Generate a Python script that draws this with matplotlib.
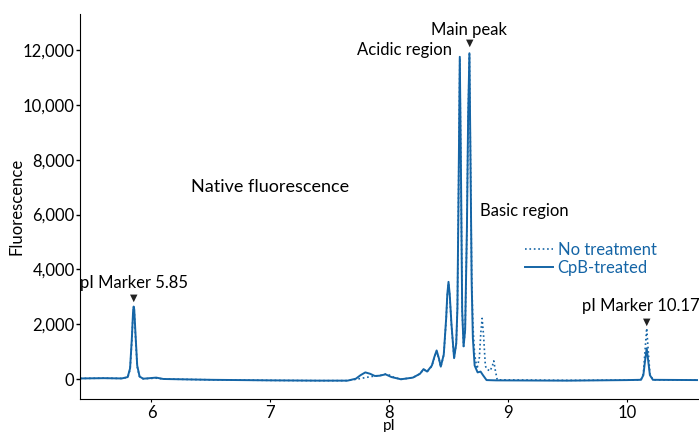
import matplotlib
matplotlib.use("Agg")
import matplotlib.pyplot as plt
from matplotlib.ticker import FuncFormatter

plt.rcParams["font.family"] = ["Lato", "DejaVu Sans"]
plt.rcParams["font.size"] = 12

# CpB-treated trace (solid), pI vs fluorescence
pi_cpb = [5.40, 5.60, 5.75, 5.80, 5.82, 5.835, 5.845, 5.85, 5.855, 5.865, 5.88, 5.90, 5.93,
          6.04, 6.10, 6.50, 7.00, 7.40, 7.65, 7.72, 7.76, 7.80, 7.84, 7.88, 7.92, 7.97, 8.02,
          8.10, 8.20, 8.26, 8.29, 8.32, 8.36, 8.38, 8.40, 8.42, 8.435, 8.46, 8.48, 8.49, 8.50,
          8.51, 8.525, 8.547, 8.565, 8.575, 8.585, 8.595, 8.605, 8.615, 8.627, 8.64, 8.655,
          8.665, 8.676, 8.685, 8.695, 8.705, 8.72, 8.745, 8.77, 8.79, 8.82, 8.90, 9.50,
          10.00, 10.12, 10.14, 10.155, 10.168, 10.18, 10.195, 10.22, 10.60]
fl_cpb = [30, 40, 30, 80, 400, 1500, 2450, 2650, 2550, 1700, 500, 100, 20,
          60, 10, -20, -40, -50, -50, 20, 150, 250, 200, 120, 130, 180, 80,
          0, 60, 200, 370, 280, 500, 800, 1050, 750, 460, 900, 2200, 3100, 3550,
          3100, 2000, 770, 1300, 2600, 7000, 11750, 7500, 2500, 1200, 1800, 5500,
          9500, 11880, 8000, 3500, 1500, 500, 250, 280, 150, -30, -40, -50,
          -30, -20, 150, 700, 1130, 700, 150, -20, -30]

# No treatment trace (dotted)
pi_none = [5.40, 5.60, 5.75, 5.80, 5.82, 5.835, 5.845, 5.85, 5.855, 5.865, 5.88, 5.90, 5.93,
           6.04, 6.10, 6.50, 7.00, 7.40, 7.65, 7.75, 7.85, 7.92, 7.98, 8.04,
           8.10, 8.20, 8.26, 8.29, 8.32, 8.36, 8.38, 8.40, 8.42, 8.435, 8.46, 8.48, 8.49, 8.50,
           8.51, 8.525, 8.547, 8.565, 8.575, 8.585, 8.595, 8.605, 8.615, 8.627, 8.64, 8.655,
           8.665, 8.676, 8.685, 8.695, 8.705, 8.72, 8.74, 8.76, 8.772, 8.783, 8.795, 8.81,
           8.82, 8.85, 8.87, 8.881, 8.895, 8.91, 9.50,
           10.00, 10.12, 10.14, 10.155, 10.168, 10.18, 10.195, 10.22, 10.60]
fl_none = [30, 40, 30, 70, 350, 1400, 2400, 2600, 2500, 1600, 450, 90, 20,
           40, 10, -20, -40, -50, -50, 20, 100, 130, 200, 70,
           0, 60, 200, 360, 270, 480, 780, 1020, 730, 450, 880, 2150, 3050, 3500,
           3050, 1950, 760, 1300, 2600, 7000, 11700, 7500, 2500, 1200, 1800, 5500,
           9500, 11850, 8000, 3800, 2000, 900, 380, 800, 1700, 2220, 1600, 500,
           375, 300, 500, 670, 300, -20, -40,
           -30, -20, 200, 1100, 1860, 1100, 200, -20, -30]

legend_labels = ["No treatment", "CpB-treated"]

blue = "#1565a6"

fig = plt.figure(figsize=(6.99, 4.32), dpi=100)
ax = fig.add_axes([0.1147, 0.0757, 0.8839, 0.8919])

ax.plot(pi_none, fl_none, ":", color=blue, lw=1.2, label=legend_labels[0])
ax.plot(pi_cpb, fl_cpb, "-", color=blue, lw=1.4, label=legend_labels[1])

ax.set_xlim(5.4, 10.6)
ax.set_ylim(-730, 13310)
ax.set_xticks([6, 7, 8, 9, 10])
ax.set_yticks(range(0, 12001, 2000))
ax.yaxis.set_major_formatter(FuncFormatter(lambda v, p: "{:,.0f}".format(v)))
ax.spines["top"].set_visible(False)
ax.spines["right"].set_visible(False)
ax.tick_params(axis="y", length=3, width=1, pad=1, labelsize=12)
ax.tick_params(axis="x", length=2, width=0.8, pad=2, labelsize=12)
ax.set_xlabel("pI", fontsize=11, labelpad=-1)
ax.set_ylabel("Fluorescence", fontsize=12, labelpad=-1)

# annotations
ax.text(7.0, 7000, "Native fluorescence", fontsize=13, ha="center", va="center")
ax.text(8.53, 12000, "Acidic region", fontsize=12, ha="right", va="center")
ax.text(8.676, 12730, "Main peak", fontsize=12, ha="center", va="center")
ax.text(8.763, 6120, "Basic region", fontsize=12, ha="left", va="center")
ax.text(5.857, 3510, "pI Marker 5.85", fontsize=12, ha="center", va="center")
ax.text(10.12, 2680, "pI Marker 10.17", fontsize=12, ha="center", va="center")
for xa, ya in [(8.676, 12250), (5.85, 2960), (10.168, 2090)]:
    ax.text(xa, ya, "\u25bc", fontsize=7, ha="center", va="center",
            family="DejaVu Sans", color="#222222")

leg = ax.legend(loc="upper left", bbox_to_anchor=(0.72, 0.408), frameon=False,
                handlelength=1.7, handletextpad=0.25, labelspacing=0.1,
                borderpad=0, borderaxespad=0, fontsize=12)
for t in leg.get_texts():
    t.set_color(blue)

fig.savefig("out.png", dpi=100)
